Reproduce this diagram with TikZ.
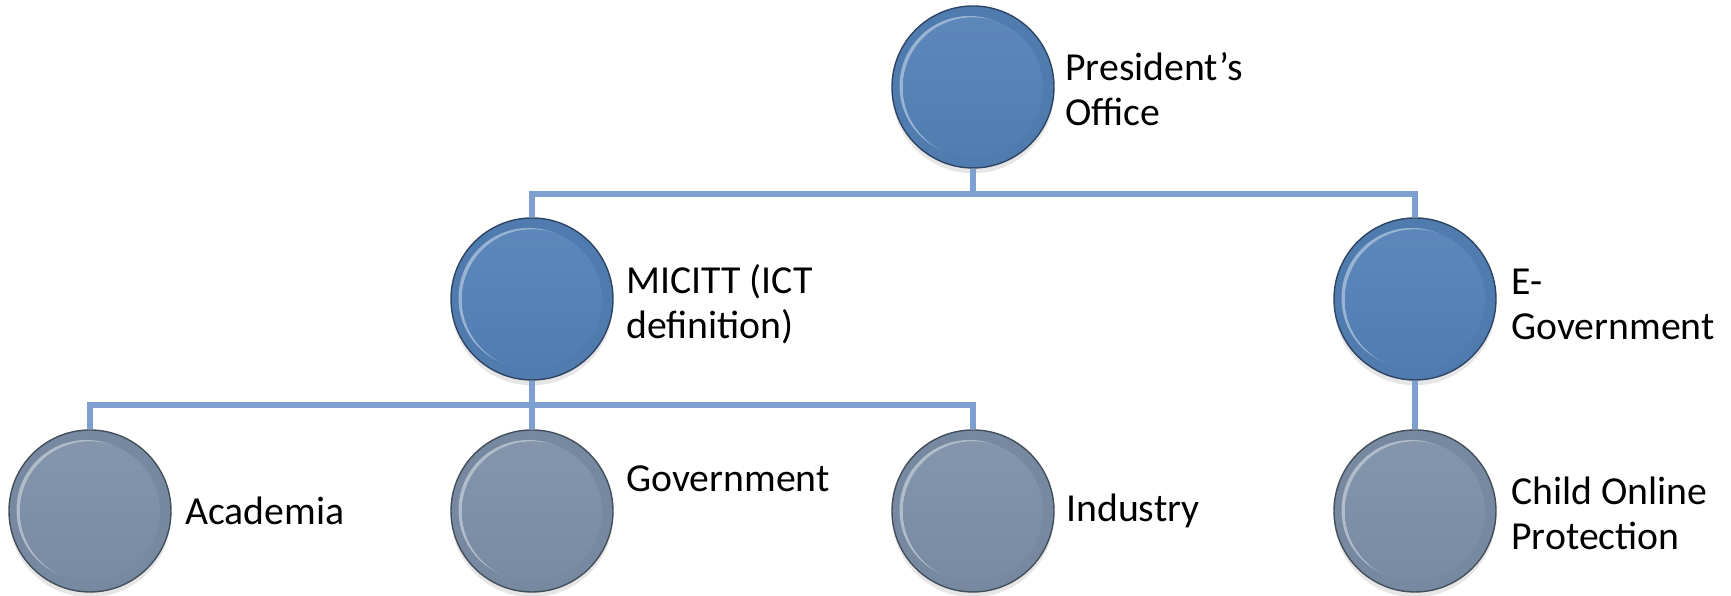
\documentclass[tikz,border=0pt]{standalone}
\usepackage{fontspec}
\setmainfont{Carlito}
\usetikzlibrary{calc, shadows}
\definecolor{orgblue}{HTML}{5380B6}
\definecolor{orggrey}{HTML}{7C8FA7}
\definecolor{linkblue}{HTML}{7DA0D0}

\tikzset{
  orb/.style={circle, minimum size=1.62cm, inner sep=0pt, draw=#1!55!black, line width=0.4pt,
    fill=#1!96!black, drop shadow={opacity=0.2, shadow xshift=0pt, shadow yshift=-1.5pt},
    path picture={
      \fill[#1!60!white] ($(path picture bounding box.center)+(-0.035,0.01)$) circle (0.70cm);
      \fill[top color=#1!94!white, bottom color=#1!97!black]
        ($(path picture bounding box.center)+(0.0,-0.005)$) circle (0.70cm);
    }},
  tag/.style={anchor=west, align=left, inner sep=0pt, font=\fontsize{11.3}{12.8}\selectfont},
  link/.style={draw=linkblue, line width=1.8pt}
}

\begin{document}
\begin{tikzpicture}
\useasboundingbox (0,0) rectangle (17.31,5.96);

% Circles
\node[orb=orgblue]  (pres)   at (9.73,5.09) {};
\node[orb=orgblue]  (micitt) at (5.32,2.97) {};
\node[orb=orgblue]  (egov)   at (14.15,2.97) {};
\node[orb=orggrey]  (acad)   at (0.90,0.85) {};
\node[orb=orggrey]  (gov)    at (5.32,0.85) {};
\node[orb=orggrey]  (ind)    at (9.73,0.85) {};
\node[orb=orggrey]  (cop)    at (14.15,0.85) {};

% Labels
\node[tag] (presL)   at ($(pres.east)+(0.1,-0.02)$)  {President’s\\Office};
\node[tag] (micittL) at ($(micitt.east)+(0.12,-0.05)$) {MICITT (ICT\\definition)};
\node[tag] (egovL)   at ($(egov.east)+(0.14,-0.05)$)  {E-\\Government};
\node[tag] (acadL)   at ($(acad.east)+(0.13,0)$)     {Academia};
\node[tag] (govL)    at ($(gov.east)+(0.12,0.32)$)   {Government};
\node[tag] (indL)    at ($(ind.east)+(0.11,0)$)      {Industry};
\node[tag] (copL)    at ($(cop.east)+(0.14,-0.02)$)  {Child Online\\Protection};

% Connectors
\coordinate (busA) at (9.73,4.02);
\coordinate (busB) at (5.32,1.91);
\draw[link] (pres.south) -- (busA);
\draw[link] (micitt.north) |- (busA) -| (egov.north);
\draw[link] (micitt.south) -- (gov.north);
\draw[link] (acad.north) |- (busB) -| (ind.north);
\draw[link] (egov.south) -- (cop.north);
\end{tikzpicture}
\end{document}
